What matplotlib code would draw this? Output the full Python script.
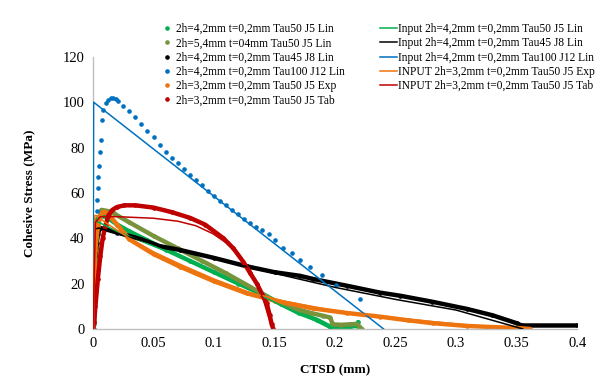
import matplotlib
matplotlib.use("Agg")
import matplotlib.pyplot as plt

# --- data (CTSD in mm, stress in MPa) ---
green_x = [0.0, 0.0005, 0.001, 0.003, 0.005, 0.008, 0.012, 0.02, 0.03, 0.045, 0.06, 0.08,
           0.1, 0.12, 0.14, 0.155, 0.17, 0.185, 0.196, 0.205, 0.212, 0.218, 0.219]
green_y = [0.0, 2, 47, 48, 49.5, 50, 49, 46, 43, 39, 35, 30,
           25, 20, 15.5, 11, 7, 4, 1, 0.8, 1, 1.3, 3]

olive_x = [0.0, 0.001, 0.002, 0.004, 0.007, 0.012, 0.017, 0.03, 0.05, 0.07, 0.09, 0.11,
           0.13, 0.141, 0.15, 0.16, 0.17, 0.18, 0.19, 0.196, 0.198, 0.205, 0.212, 0.218, 0.222]
olive_y = [0.0, 2.5, 20, 45, 52.5, 52, 51, 47, 41, 35.5, 30, 24.5,
           18.5, 15, 12.5, 10, 8.5, 7, 5.8, 5, 2, 1.8, 2, 2.2, 0]

black_x = [0.0005, 0.001, 0.002, 0.003, 0.004, 0.006, 0.01, 0.02, 0.04, 0.055, 0.072, 0.1,
           0.127, 0.15, 0.171, 0.182, 0.21, 0.237, 0.254, 0.28, 0.309, 0.33, 0.35, 0.354, 0.4]
black_y = [26, 28, 32, 38, 42, 44.5, 44, 42.5, 39.5, 36.5, 34.8, 31.3,
           27.6, 25, 23.4, 22, 19, 16, 14.6, 12, 8.8, 6, 2.5, 1.5, 1.5]

blue_x = [0.0005, 0.001, 0.002, 0.003, 0.0035, 0.004, 0.0044, 0.005, 0.0058, 0.0065, 0.0072,
          0.0085, 0.0105, 0.0126, 0.0145, 0.0168, 0.0187, 0.0207, 0.025, 0.03, 0.035, 0.04,
          0.045, 0.05, 0.055, 0.06, 0.065, 0.07, 0.075, 0.08, 0.085, 0.09, 0.095, 0.1,
          0.105, 0.11, 0.115, 0.12, 0.125, 0.13, 0.135, 0.14, 0.145, 0.15, 0.157, 0.164,
          0.171, 0.179, 0.189, 0.201, 0.2207, 0.339]
blue_y = [0, 19, 30, 52, 57, 62, 67, 72, 78, 83.4, 92, 96.6, 99.5, 101, 101.8, 101.8, 101.2,
          100.4, 98.5, 96, 93.5, 90.5, 87.5, 84.5, 81, 78, 75.5, 73, 70.5, 68, 65.5, 63.5,
          61, 58.5, 56.5, 54.5, 52.5, 50.5, 48.5, 46.5, 45, 43.7, 42, 39, 35.9, 33.4, 30.4,
          27.5, 23.8, 19.4, 13.1, 0]

orange_x = [0.0, 0.001, 0.002, 0.004, 0.006, 0.0085, 0.012, 0.02, 0.03, 0.05, 0.072, 0.1,
            0.127, 0.15, 0.182, 0.21, 0.237, 0.26, 0.281, 0.309, 0.33, 0.35, 0.361]
orange_y = [0, 20, 35, 45, 50, 51.7, 51, 46, 39.5, 33, 27.4, 21,
            15.7, 12.5, 9, 7, 5.4, 3.8, 2.5, 1.3, 0.8, 0.4, 0]

red_x = [0.0, 0.001, 0.002, 0.004, 0.006, 0.008, 0.0105, 0.0127, 0.016, 0.02, 0.026, 0.035,
         0.05, 0.065, 0.08, 0.0926, 0.1077, 0.116, 0.124, 0.13, 0.1353, 0.14, 0.1435, 0.146,
         0.1476, 0.149]
red_y = [0, 3, 10, 22, 32, 40, 46, 50, 52.5, 53.8, 54.5, 54.5,
         53.5, 51.5, 49, 46, 40, 35.5, 29.7, 24.5, 20, 15, 11.3, 6, 2, 0]

in_green_x = [0.0, 0.001, 0.02, 0.05, 0.072, 0.1, 0.1545, 0.18, 0.197]
in_green_y = [0, 48, 43, 36.5, 31.9, 24.8, 10.6, 4.5, 0]

in_black_x = [0.0, 0.001, 0.005, 0.02, 0.05, 0.1, 0.15, 0.2, 0.25, 0.3, 0.355]
in_black_y = [0, 44, 44.5, 42, 37.5, 31, 24.5, 18.3, 13, 8.3, 0]

in_blue_x = [0.0, 0.0005, 0.24]
in_blue_y = [0, 100, 0]

in_orange_x = [0.0, 0.0015, 0.003, 0.01, 0.02, 0.03, 0.05, 0.072, 0.1, 0.13, 0.16, 0.2,
               0.25, 0.3, 0.347]
in_orange_y = [0, 50, 50, 47, 43.5, 40, 34, 28.5, 22, 16, 12, 8, 4.8, 2.2, 0]

in_red_x = [0.0, 0.002, 0.006, 0.02, 0.05, 0.07, 0.085, 0.099, 0.11, 0.12, 0.13, 0.14, 0.148]
in_red_y = [0, 47, 49.5, 49.5, 48.8, 47.5, 45.5, 42, 38, 33, 26, 14, 0]

dot_labels = ["2h=4,2mm t=0,2mm Tau50 J5 Lin", "2h=5,4mm t=04mm Tau50 J5 Lin",
              "2h=4,2mm t=0,2mm Tau45 J8 Lin", "2h=4,2mm t=0,2mm Tau100 J12 Lin",
              "2h=3,2mm t=0,2mm Tau50 J5 Exp", "2h=3,2mm t=0,2mm Tau50 J5 Tab"]
line_labels = ["Input 2h=4,2mm t=0,2mm Tau50 J5 Lin", "Input 2h=4,2mm t=0,2mm Tau45 J8 Lin",
               "Input 2h=4,2mm t=0,2mm Tau100 J12 Lin", "INPUT 2h=3,2mm t=0,2mm Tau50 J5 Exp",
               "INPUT 2h=3,2mm t=0,2mm Tau50 J5 Tab"]

C_GREEN = "#00B050"
C_OLIVE = "#77933C"
C_BLACK = "#000000"
C_BLUE = "#0070C0"
C_ORANGE = "#EE7410"
C_RED = "#C00000"

plt.rcParams['font.family'] = ['Liberation Serif', 'DejaVu Serif']

fig = plt.figure(figsize=(6.0, 3.92), dpi=100)
ax = fig.add_axes([0.155, 0.161, 0.807, 0.694])


def dots(x, y, color, label, band=True):
    # dense measured points look like a thick band
    if band:
        ax.plot(x, y, color=color, lw=3.2, solid_capstyle='round', zorder=2)
    ax.plot(x, y, 'o', ms=2.3, color=color, ls='none', label=label, zorder=2)


dots(green_x, green_y, C_GREEN, dot_labels[0])
dots(olive_x, olive_y, C_OLIVE, dot_labels[1])
dots(black_x, black_y, C_BLACK, dot_labels[2])
dots(blue_x, blue_y, C_BLUE, dot_labels[3], band=False)
dots(orange_x, orange_y, C_ORANGE, dot_labels[4])
dots(red_x, red_y, C_RED, dot_labels[5])

ax.plot(in_green_x, in_green_y, color=C_GREEN, lw=1.1, label=line_labels[0], zorder=3)
ax.plot(in_black_x, in_black_y, color=C_BLACK, lw=1.1, label=line_labels[1], zorder=3)
ax.plot(in_blue_x, in_blue_y, color=C_BLUE, lw=1.1, label=line_labels[2], zorder=3)
ax.plot(in_orange_x, in_orange_y, color=C_ORANGE, lw=1.1, label=line_labels[3], zorder=3)
ax.plot(in_red_x, in_red_y, color=C_RED, lw=1.1, label=line_labels[4], zorder=3)

ax.set_xlim(0, 0.4)
ax.set_ylim(0, 120)
ax.set_xticks([0, 0.05, 0.1, 0.15, 0.2, 0.25, 0.3, 0.35, 0.4])
ax.set_xticklabels(["0", "0.05", "0.1", "0.15", "0.2", "0.25", "0.3", "0.35", "0.4"])
ax.set_yticks(range(0, 121, 20))
ax.tick_params(length=0, labelsize=10.5, pad=6)

for side in ("top", "right"):
    ax.spines[side].set_visible(False)
for side in ("left", "bottom"):
    ax.spines[side].set_color("#BFBFBF")
    ax.spines[side].set_linewidth(1.0)

ax.set_xlabel("CTSD (mm)", fontsize=9.5, fontweight="bold", labelpad=10)
ax.set_ylabel("Cohesive Stress (MPa)", fontsize=9.5, fontweight="bold", labelpad=20)

leg = ax.legend(ncol=2, loc="upper left", bbox_to_anchor=(158 / 600, 1 - 23 / 392),
                bbox_transform=fig.transFigure, frameon=False, fontsize=8.3,
                handlelength=1.5, handletextpad=0.1, columnspacing=3.0,
                labelspacing=0.2, borderpad=0, borderaxespad=0)

fig.savefig("out.png", dpi=100)
